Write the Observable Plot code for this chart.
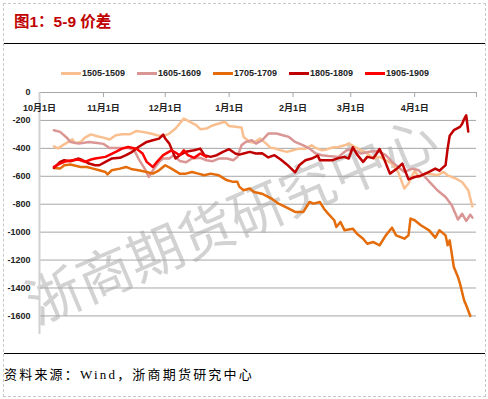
<!DOCTYPE html>
<html><head><meta charset="utf-8">
<script src="https://cdn.jsdelivr.net/npm/d3@7"></script>
<script src="https://cdn.jsdelivr.net/npm/@observablehq/plot@0.6"></script>
<style>
html,body{margin:0;padding:0;background:#fff;}
#wrap{position:relative;width:488px;height:399px;overflow:hidden;font-family:Arial,"Liberation Sans","Noto Sans CJK SC",sans-serif;}
#border{position:absolute;left:3px;top:3px;width:481px;height:392px;border:1px dashed #c8c8c8;}
#title{position:absolute;left:14px;top:12px;font-size:15.5px;font-weight:bold;color:#C00000;line-height:20px;white-space:nowrap;}
.hr{position:absolute;left:4px;width:481px;height:0;border-top:1.5px solid #000;}
.item{position:absolute;top:67px;font-size:9px;font-weight:bold;color:#222;line-height:12px;white-space:nowrap;}
.swatch{position:absolute;top:72px;width:20px;height:2.5px;}
#chart{position:absolute;left:0;top:82px;}
#caption{position:absolute;left:4px;top:366px;font-size:13px;line-height:18px;font-family:"Liberation Serif","Noto Sans CJK SC",serif;white-space:nowrap;letter-spacing:2.2px;}
</style></head>
<body>
<div id="wrap">
  <div id="border"></div>
  <div id="title">图1：5-9 价差</div>
  <div class="hr" style="top:43px"></div>
  <div id="legend"></div>
  <div id="chart"></div>
  <div class="hr" style="top:353px"></div>
  <div id="caption">资料来源：Wind，浙商期货研究中心</div>
</div>
<script>
// ---- data ----
const seriesNames = ["1505-1509", "1605-1609", "1705-1709", "1805-1809", "1905-1909"];
const seriesColors = ["#FABF8F", "#D99694", "#E46C0A", "#C00000", "#FF0000"];
const yTicks = [0, -200, -400, -600, -800, -1000, -1200, -1400, -1600];
const monthTicks = ["10-01", "11-01", "12-01", "01-01", "02-01", "03-01", "04-01", "05-01"];
const monthLabels = ["10月1日", "11月1日", "12月1日", "1月1日", "2月1日", "3月1日", "4月1日", ""];

const s1505 = [["10-08",-385],["10-10",-400],["10-13",-371],["10-15",-354],["10-17",-335],["10-18",-361],["10-21",-354],["10-23",-323],["10-26",-300],["10-29",-313],["11-01",-323],["11-04",-337],["11-07",-306],["11-10",-299],["11-14",-299],["11-17",-275],["11-20",-282],["11-24",-294],["11-27",-306],["11-30",-313],["12-03",-294],["12-06",-258],["12-10",-187],["12-13",-210],["12-16",-234],["12-18",-263],["12-21",-258],["12-24",-236],["12-27",-222],["12-30",-210],["01-01",-240],["01-04",-245],["01-07",-250],["01-08",-318],["01-11",-354],["01-13",-359],["01-16",-330],["01-19",-366],["01-21",-395],["01-23",-400],["01-26",-414],["01-29",-425],["02-01",-414],["02-04",-402],["02-07",-402],["02-10",-378],["02-12",-397],["02-15",-414],["02-17",-409],["02-20",-394],["02-23",-390],["02-26",-378],["02-28",-366],["03-03",-390],["03-06",-414],["03-09",-437],["03-12",-473],["03-15",-461],["03-18",-485],["03-21",-509],["03-24",-569],["03-27",-688],["03-29",-652],["04-01",-560],["04-03",-605],["04-06",-581],["04-09",-586],["04-12",-593],["04-15",-569],["04-17",-593],["04-21",-617],["04-24",-641],["04-27",-700],["04-29",-815]];
const s1605 = [["10-08",-270],["10-11",-282],["10-14",-320],["10-16",-354],["10-20",-366],["10-25",-354],["10-29",-361],["11-01",-368],["11-04",-397],["11-08",-397],["11-13",-397],["11-16",-414],["11-18",-473],["11-21",-545],["11-23",-605],["11-25",-557],["11-28",-497],["11-30",-473],["12-03",-473],["12-05",-449],["12-08",-490],["12-11",-500],["12-14",-473],["12-18",-468],["12-21",-485],["12-24",-492],["12-27",-473],["12-31",-473],["01-03",-485],["01-05",-461],["01-07",-378],["01-09",-354],["01-12",-342],["01-14",-366],["01-17",-342],["01-20",-294],["01-24",-294],["01-27",-306],["01-30",-318],["02-02",-354],["02-06",-378],["02-09",-402],["02-12",-437],["02-15",-449],["02-18",-455],["02-23",-461],["02-27",-414],["03-02",-409],["03-06",-437],["03-10",-425],["03-14",-418],["03-18",-449],["03-21",-497],["03-24",-533],["03-27",-569],["03-31",-545],["04-03",-557],["04-06",-605],["04-09",-653],["04-12",-700],["04-16",-748],["04-19",-808],["04-22",-910],["04-24",-868],["04-26",-920],["04-28",-875],["04-29",-896]];
const s1705 = [["10-08",-540],["10-11",-545],["10-13",-521],["10-16",-516],["10-19",-526],["10-21",-533],["10-24",-533],["10-27",-545],["10-30",-557],["11-02",-569],["11-03",-586],["11-05",-557],["11-09",-545],["11-12",-533],["11-15",-550],["11-18",-557],["11-22",-569],["11-25",-581],["11-28",-557],["12-01",-521],["12-04",-545],["12-08",-581],["12-11",-581],["12-14",-569],["12-17",-581],["12-20",-593],["12-23",-581],["12-27",-593],["12-31",-629],["01-03",-640],["01-05",-640],["01-06",-676],["01-08",-700],["01-11",-688],["01-13",-712],["01-17",-725],["01-19",-740],["01-22",-764],["01-25",-796],["01-29",-824],["02-02",-855],["02-06",-855],["02-09",-784],["02-11",-796],["02-14",-784],["02-16",-832],["02-18",-867],["02-21",-915],["02-22",-963],["02-24",-927],["02-26",-987],["03-02",-975],["03-04",-1011],["03-07",-1047],["03-09",-1083],["03-12",-1071],["03-15",-1094],["03-18",-1023],["03-21",-968],["03-23",-1023],["03-27",-1047],["03-29",-1023],["03-30",-903],["04-01",-915],["04-04",-951],["04-08",-987],["04-11",-1039],["04-13",-987],["04-16",-1023],["04-17",-1094],["04-18",-1059],["04-20",-1250],["04-22",-1321],["04-23",-1369],["04-25",-1489],["04-26",-1524],["04-28",-1600]];
const s1805 = [["10-08",-540],["10-11",-497],["10-13",-485],["10-16",-492],["10-20",-473],["10-22",-485],["10-25",-509],["10-28",-521],["10-30",-521],["11-02",-497],["11-05",-473],["11-09",-468],["11-12",-449],["11-15",-425],["11-18",-390],["11-22",-354],["11-25",-342],["11-28",-330],["11-30",-301],["12-01",-330],["12-03",-366],["12-04",-402],["12-06",-473],["12-08",-449],["12-11",-425],["12-15",-414],["12-18",-402],["12-20",-449],["12-23",-461],["12-26",-449],["12-29",-425],["01-01",-406],["01-04",-437],["01-06",-445],["01-08",-437],["01-11",-425],["01-14",-437],["01-17",-435],["01-20",-465],["01-23",-449],["01-26",-480],["01-29",-515],["02-02",-572],["02-04",-521],["02-07",-485],["02-10",-473],["02-13",-452],["02-14",-485],["02-17",-485],["02-20",-485],["02-23",-470],["02-26",-461],["02-28",-473],["03-02",-392],["03-04",-443],["03-07",-497],["03-09",-461],["03-12",-470],["03-13",-449],["03-15",-405],["03-17",-470],["03-20",-581],["03-23",-550],["03-26",-509],["03-29",-622],["04-01",-605],["04-04",-596],["04-08",-569],["04-11",-545],["04-13",-560],["04-16",-520],["04-17",-400],["04-18",-310],["04-20",-270],["04-23",-246],["04-24",-225],["04-25",-190],["04-26",-163],["04-27",-280]];
const s1905 = [["10-08",-533],["10-11",-509],["10-14",-492],["10-17",-485],["10-20",-480],["10-23",-497],["10-26",-480],["10-28",-473],["11-02",-461],["11-07",-425],["11-10",-402],["11-13",-390],["11-17",-402],["11-20",-437],["11-22",-497],["11-25",-533],["11-27",-497],["11-30",-449],["12-04",-414],["12-06",-430],["12-08",-449],["12-10",-414],["12-12",-449],["12-15",-468],["12-18",-437],["12-21",-461]];

// ---- helpers ----
const toDate = s => { const [m, d] = s.split("-").map(Number); return new Date(Date.UTC(m >= 10 ? 2018 : 2019, m - 1, d)); };
const allSeries = [s1505, s1605, s1705, s1805, s1905];
const rows = allSeries.map((s, k) => s.map(([d, v]) => ({date: toDate(d), value: v, series: seriesNames[k]})));
const tickDates = monthTicks.map(toDate);
const labelRows = tickDates.map((d, i) => ({date: d, label: monthLabels[i]})).filter(r => r.label);
const xStart = tickDates[0], xEnd = tickDates[tickDates.length - 1];

// legend
const legend = document.getElementById("legend");
seriesNames.forEach((n, i) => {
  const left = 61 + i * 76;
  const sw = document.createElement("div");
  sw.className = "swatch"; sw.style.left = left + "px"; sw.style.background = seriesColors[i];
  legend.appendChild(sw);
  const t = document.createElement("div");
  t.className = "item"; t.style.left = (left + 21) + "px"; t.textContent = n;
  legend.appendChild(t);
});

const chart = Plot.plot({
  width: 488, height: 262,
  marginTop: 10, marginBottom: 10, marginLeft: 39, marginRight: 12,
  style: {background: "transparent", fontFamily: "Arial, 'Liberation Sans', 'Noto Sans CJK SC', sans-serif", fontSize: "9px", fontWeight: "bold", color: "#222"},
  x: {type: "utc", domain: [xStart, xEnd], axis: null},
  y: {domain: [-1733, 0], axis: null},
  marks: [
    Plot.ruleY(yTicks.filter(v => v !== 0), {stroke: "#a6a6a6", strokeWidth: 1}),
    Plot.ruleY([0], {stroke: "#a6a6a6", strokeWidth: 1}),
    Plot.ruleX([xStart], {stroke: "#d0d0d0", strokeWidth: 2}),
    Plot.ruleX(tickDates.slice(1), {x: d => d, y1: 0, y2: 0, insetBottom: -5, stroke: "#a6a6a6"}),
    Plot.text(labelRows, {x: "date", text: "label", frameAnchor: "top", dy: 12, fill: "#222"}),
    Plot.text(yTicks, {y: d => d, text: d => String(d), frameAnchor: "left", dx: -9, textAnchor: "end", fill: "#222"}),
    ...rows.map((r, k) => Plot.line(r, {x: "date", y: "value", stroke: seriesColors[k], strokeWidth: 2.5}))
  ]
});

d3.select(chart).insert("text", "g")
  .attr("transform", "translate(230,135) rotate(-23)")
  .attr("text-anchor", "middle")
  .attr("dominant-baseline", "central")
  .attr("font-family", "'Noto Sans CJK SC', sans-serif")
  .attr("font-size", 55)
  .attr("font-weight", "normal")
  .attr("fill", "#d2d2d2")
  .text("浙商期货研究中心");

document.getElementById("chart").appendChild(chart);
</script>
</body></html>
